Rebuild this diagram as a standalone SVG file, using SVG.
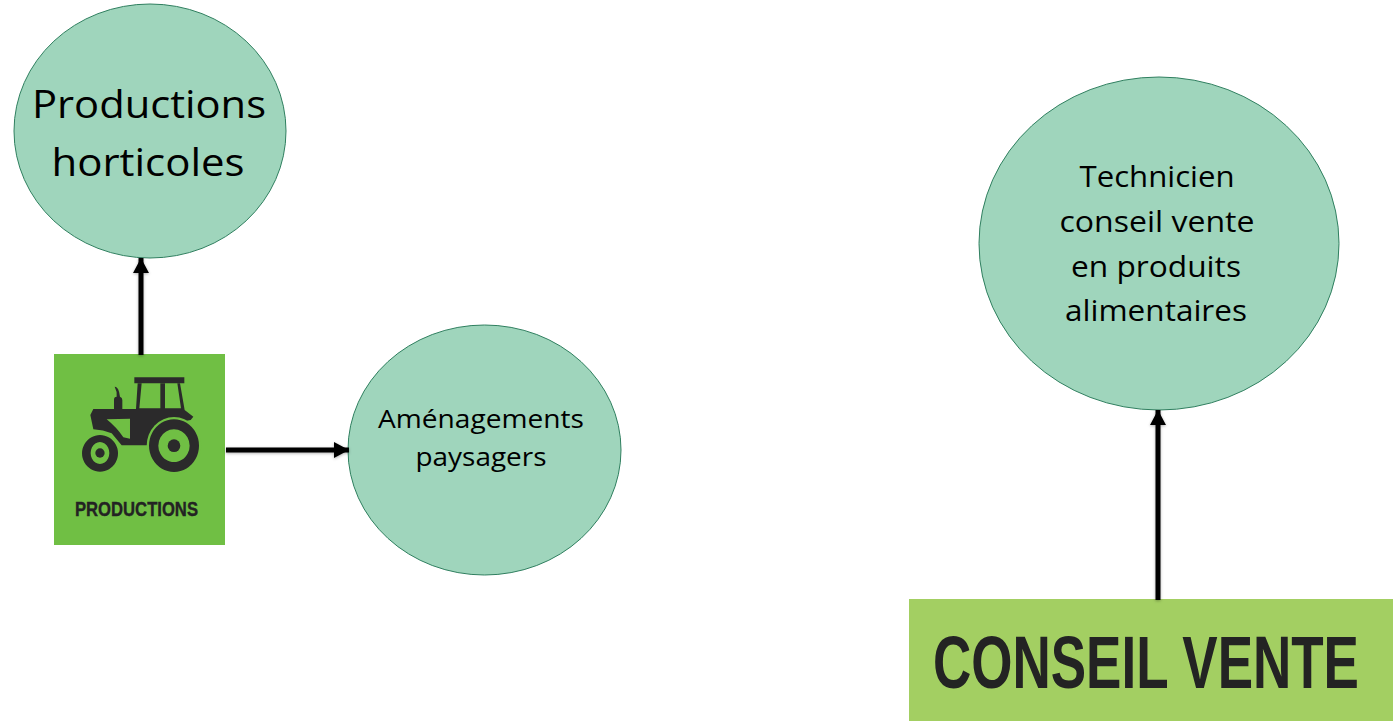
<svg xmlns="http://www.w3.org/2000/svg" width="1393" height="721" viewBox="0 0 1393 721">
<style>
.n{fill:#9fd5bc;stroke:#2f7f5f;stroke-width:1}
.t{font-family:"Open Sans","Noto Sans",sans-serif;fill:#000;text-anchor:middle}
.c{stroke:#000;stroke-width:5;fill:none;marker-end:url(#a)}
.d{fill:#2b2a2b}
.l{font-family:"Liberation Sans",sans-serif;font-weight:700;fill:#232323}
</style>
<defs>
<marker id="a" markerUnits="userSpaceOnUse" markerWidth="16" markerHeight="16" refX="15" refY="8" orient="auto"><path d="M0 0L15 8L0 16z" fill="#000"/></marker>
<filter id="s" filterUnits="userSpaceOnUse" x="0" y="0" width="1393" height="721"><feDropShadow dx="0" dy="1" stdDeviation="1.500" flood-color="#000" flood-opacity=".3"/></filter>
</defs>
<g id="node-horticoles"><ellipse class="n" cx="150" cy="131" rx="136" ry="127"/><text class="t" font-size="39" x="149" y="118" textLength="234" lengthAdjust="spacingAndGlyphs">Productions</text><text class="t" font-size="39" x="148" y="176" textLength="193" lengthAdjust="spacingAndGlyphs">horticoles</text></g>
<g id="node-amenagements"><ellipse class="n" cx="484.500" cy="450" rx="136.500" ry="125"/><text class="t" font-size="26" x="481" y="428" textLength="206" lengthAdjust="spacingAndGlyphs">Aménagements</text><text class="t" font-size="26" x="481" y="466" textLength="131" lengthAdjust="spacingAndGlyphs">paysagers</text></g>
<g id="node-technicien"><ellipse class="n" cx="1159" cy="243.500" rx="180" ry="166.500"/><text class="t" font-size="30" x="1157" y="187" textLength="155" lengthAdjust="spacingAndGlyphs">Technicien</text><text class="t" font-size="30" x="1157" y="232" textLength="195" lengthAdjust="spacingAndGlyphs">conseil vente</text><text class="t" font-size="30" x="1156" y="277" textLength="170" lengthAdjust="spacingAndGlyphs">en produits</text><text class="t" font-size="30" x="1156" y="321" textLength="182" lengthAdjust="spacingAndGlyphs">alimentaires</text></g>
<g id="node-productions"><rect x="54" y="354" width="171" height="191" fill="#70bf44"/>
<g transform="translate(40 340) scale(.33333)">
<path class="d" d="M283 112H433V130H283z"/>
<path class="d" fill-rule="evenodd" d="M293 130H420L434 210L460 230L452 240L400 250L340 270L322 316H245L215 280Q190 270 160 268L151 225L160 207H222V180Q222 170 230 170Q232 155 224 140Q236 138 240 170Q247 172 247 180V207H288zM305 130L298 205H361V130zM375 130V205H423L412 130zM200 238L270 236V296L250 292Q230 262 200 238z"/>
<ellipse cx="402" cy="317" rx="82" ry="86" fill="#70bf44"/>
<path class="d" fill-rule="evenodd" d="M402 238a75 79 0 1 0 .1 0zM402 268a47 49 0 1 1-.1 0z"/><circle class="d" cx="402" cy="317" r="19"/>
<path class="d" fill-rule="evenodd" d="M180 285a54 55 0 1 0 .1 0zM180 306a28 33 0 1 1-.1 0z"/><circle class="d" cx="180" cy="339" r="14"/>
</g>
<text class="l" x="75" y="516" font-size="21" stroke="#232323" stroke-width=".4" textLength="123" lengthAdjust="spacingAndGlyphs">PRODUCTIONS</text></g>
<g id="node-conseil"><rect x="909" y="599" width="484" height="122" fill="#a3cf62"/><text class="l" transform="translate(933 688) scale(1 1.415)" font-size="53">CONSEIL VENTE</text></g>
<g id="connectors" filter="url(#s)">
<path class="c" d="M141 355V258"/>
<path class="c" d="M226 450H349"/>
<path class="c" d="M1158 600V410"/>
</g>
</svg>
